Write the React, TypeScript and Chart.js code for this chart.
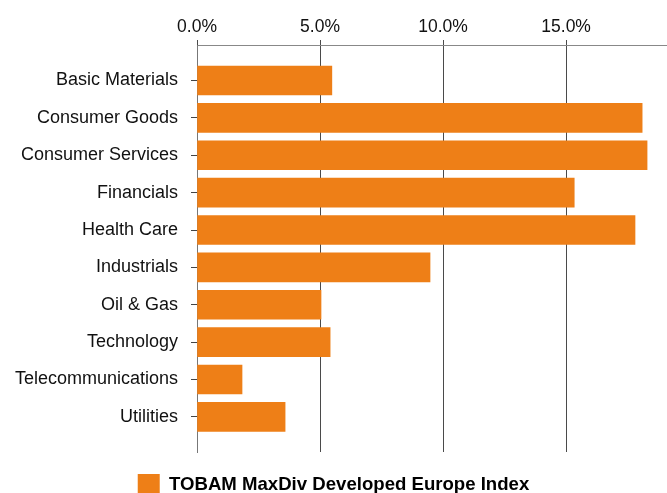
import React, { useEffect, useRef } from 'react';
import { Chart, registerables } from 'chart.js';

Chart.register(...registerables);

const categories = [
  'Basic Materials',
  'Consumer Goods',
  'Consumer Services',
  'Financials',
  'Health Care',
  'Industrials',
  'Oil & Gas',
  'Technology',
  'Telecommunications',
  'Utilities',
];
const weights = [5.48, 18.09, 18.29, 15.33, 17.8, 9.47, 5.04, 5.41, 1.83, 3.58];
const xTickValues = [0, 5, 10, 15];
const seriesName = 'TOBAM MaxDiv Developed Europe Index';

const FONT = "'Liberation Sans', Arial, Helvetica, sans-serif";
const ORANGE = '#EE7F17';
const W = 667;
const H = 506;

export default function App() {
  const ref = useRef<HTMLCanvasElement | null>(null);

  useEffect(() => {
    document.body.style.margin = '0';
    document.body.style.overflow = 'hidden';
    document.documentElement.style.overflow = 'hidden';
    if (!ref.current) return;
    const chart = new Chart(ref.current, {
      type: 'bar',
      data: {
        datasets: [
          {
            label: seriesName,
            data: weights.map((w, i) => ({ x: w, y: i })),
            backgroundColor: ORANGE,
            borderWidth: 0,
            barThickness: 29,
          },
        ],
      },
      options: {
        indexAxis: 'y',
        animation: false,
        responsive: false,
        maintainAspectRatio: false,
        layout: { padding: 0 },
        plugins: {
          tooltip: { enabled: false },
          legend: {
            position: 'bottom',
            labels: {
              boxWidth: 22,
              boxHeight: 22,
              padding: 22,
              color: '#000',
              font: { family: FONT, size: 18.6, weight: 'bold' },
            },
          },
        },
        scales: {
          x: {
            type: 'linear',
            position: 'top',
            min: 0,
            max: 19.1,
            afterBuildTicks: (s: any) => {
              s.ticks = xTickValues.map((v) => ({ value: v }));
            },
            afterFit: (s: any) => {
              s.height = 45;
            },
            ticks: {
              callback: (v: any) => Number(v).toFixed(1) + '%',
              color: '#111',
              padding: 2,
              font: { family: FONT, size: 17.5 },
            },
            grid: { color: '#4a4a4a', lineWidth: 1, tickLength: 5 },
            border: { color: '#888' },
          },
          y: {
            type: 'linear',
            reverse: true,
            offset: false,
            min: -0.95,
            max: 9.94,
            afterBuildTicks: (s: any) => {
              s.ticks = categories.map((_, i) => ({ value: i }));
            },
            afterFit: (s: any) => {
              s.width = 197;
            },
            ticks: {
              autoSkip: false,
              callback: (_v: any, i: number) => categories[i],
              color: '#111',
              padding: 13,
              font: { family: FONT, size: 18 },
            },
            grid: { offset: false, drawOnChartArea: false, tickLength: 6, color: '#444' },
            border: { color: '#777' },
          },
        },
      },
    } as any);
    return () => chart.destroy();
  }, []);

  return (
    <div style={{ width: W, height: H }}>
      <canvas ref={ref} width={W} height={H} style={{ display: 'block' }} />
    </div>
  );
}
